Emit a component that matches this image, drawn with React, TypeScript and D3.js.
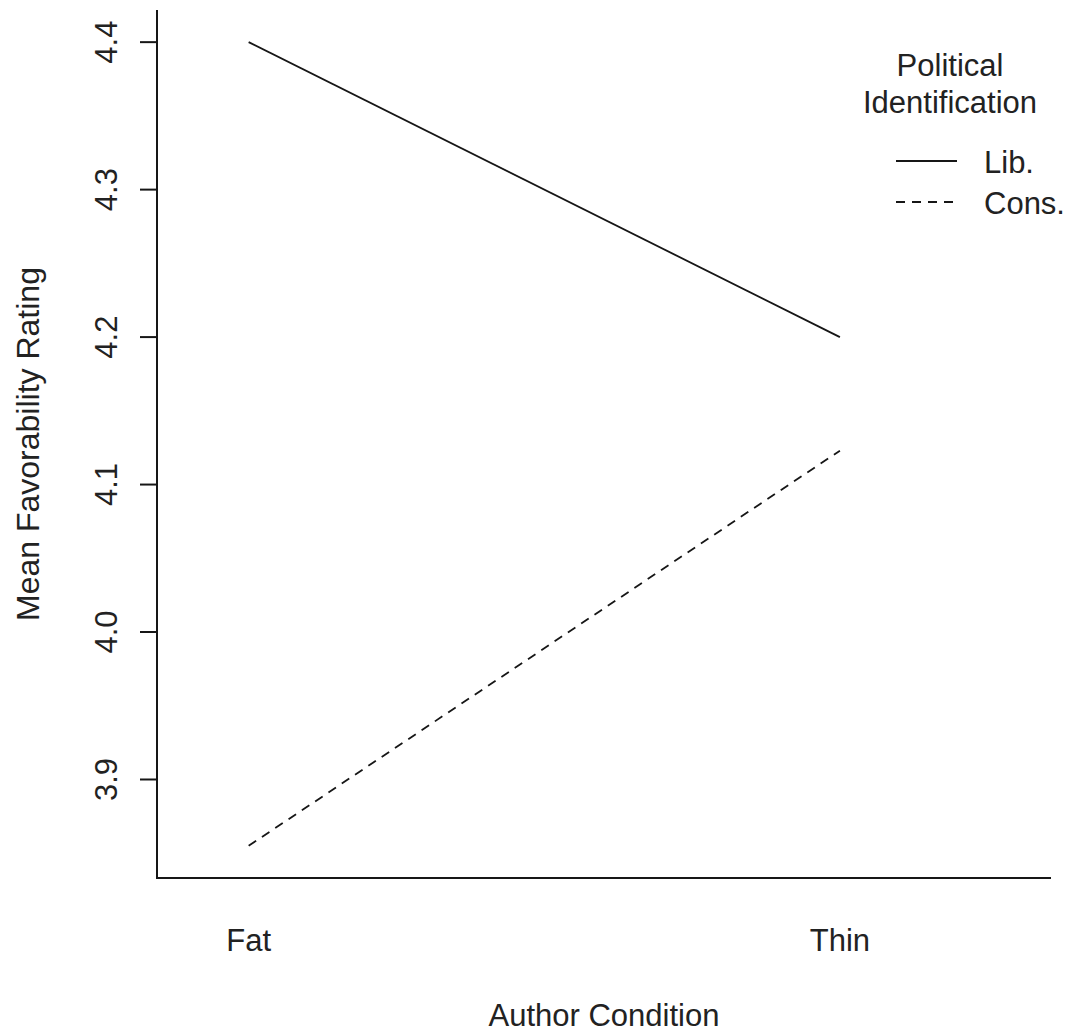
import React from "react";
import * as d3 from "d3";

// Author condition levels on the x axis
const conditions = ["Fat", "Thin"];
// Political identification groups
const groups = ["Lib.", "Cons."];
// Mean favorability ratings per group, in the order of `conditions`
const libMeans = [4.4, 4.2];
const consMeans = [3.855, 4.123];
// Y axis tick values
const yTicks = [3.9, 4.0, 4.1, 4.2, 4.3, 4.4];

const W = 1071;
const H = 1034;
const FONT = "'Liberation Sans', Arial, Helvetica, sans-serif";
const INK = "#161616";
const TEXT = "#222";

// Plot box (L-shaped frame: left and bottom sides)
const plot = { left: 157, right: 1051, top: 10, bottom: 878 };

const seriesStyle: Record<string, { dash: string }> = {
  "Lib.": { dash: "none" },
  "Cons.": { dash: "9,7" },
};

export default function App() {
  const series = [
    { name: groups[0], values: libMeans },
    { name: groups[1], values: consMeans },
  ];

  // y range padded by 4% of the data span on each side
  const all = [...libMeans, ...consMeans];
  const [lo, hi] = d3.extent(all) as [number, number];
  const pad = (hi - lo) * 0.04;
  const y = d3.scaleLinear().domain([lo - pad, hi + pad]).range([plot.bottom, plot.top]);

  // x: level positions 1..n, with extra room on the right for the legend
  const x = d3.scaleLinear().domain([0.845, 2.357]).range([plot.left, plot.right]);
  const xPos = (i: number) => x(i + 1);

  const line = d3
    .line<number>()
    .x((_, i) => xPos(i))
    .y((v) => y(v));

  const legendX0 = 896;
  const legendX1 = 957;
  const legendTextX = 984;
  const legendRowY = [161, 202];

  return (
    <svg
      width={W}
      height={H}
      style={{ position: "absolute", left: 0, top: 0, background: "#fff" }}
      fontFamily={FONT}
    >
      <rect x={0} y={0} width={W} height={H} fill="#fff" />

      {/* frame */}
      <path
        d={`M${plot.left},${plot.top}V${plot.bottom}H${plot.right}`}
        fill="none"
        stroke={INK}
        strokeWidth={2}
      />

      {/* y ticks and labels */}
      {yTicks.map((t) => (
        <g key={t}>
          <line x1={plot.left - 17} x2={plot.left} y1={y(t)} y2={y(t)} stroke={INK} strokeWidth={2} />
          <text
            transform={`translate(117,${y(t)}) rotate(-90)`}
            textAnchor="middle"
            fontSize={31}
            fill={TEXT}
          >
            {d3.format(".1f")(t)}
          </text>
        </g>
      ))}

      {/* x category labels */}
      {conditions.map((c, i) => (
        <text key={c} x={xPos(i)} y={951} textAnchor="middle" fontSize={31} fill={TEXT}>
          {c}
        </text>
      ))}

      {/* axis titles */}
      <text x={(plot.left + plot.right) / 2} y={1026} textAnchor="middle" fontSize={31} fill={TEXT}>
        Author Condition
      </text>
      <text
        transform={`translate(39,444) rotate(-90)`}
        textAnchor="middle"
        fontSize={32}
        fill={TEXT}
      >
        Mean Favorability Rating
      </text>

      {/* series lines */}
      {series.map((s) => (
        <path
          key={s.name}
          d={line(s.values) || ""}
          fill="none"
          stroke={INK}
          strokeWidth={1.8}
          strokeDasharray={seriesStyle[s.name].dash}
        />
      ))}

      {/* legend */}
      <text x={950} y={76} textAnchor="middle" fontSize={31} fill={TEXT}>
        Political
      </text>
      <text x={950} y={113} textAnchor="middle" fontSize={31} fill={TEXT}>
        Identification
      </text>
      {series.map((s, i) => (
        <g key={s.name}>
          <line
            x1={legendX0}
            x2={legendX1}
            y1={legendRowY[i]}
            y2={legendRowY[i]}
            stroke={INK}
            strokeWidth={1.8}
            strokeDasharray={seriesStyle[s.name].dash}
          />
          <text x={legendTextX} y={legendRowY[i] + 12} fontSize={31} fill={TEXT}>
            {s.name}
          </text>
        </g>
      ))}
    </svg>
  );
}
